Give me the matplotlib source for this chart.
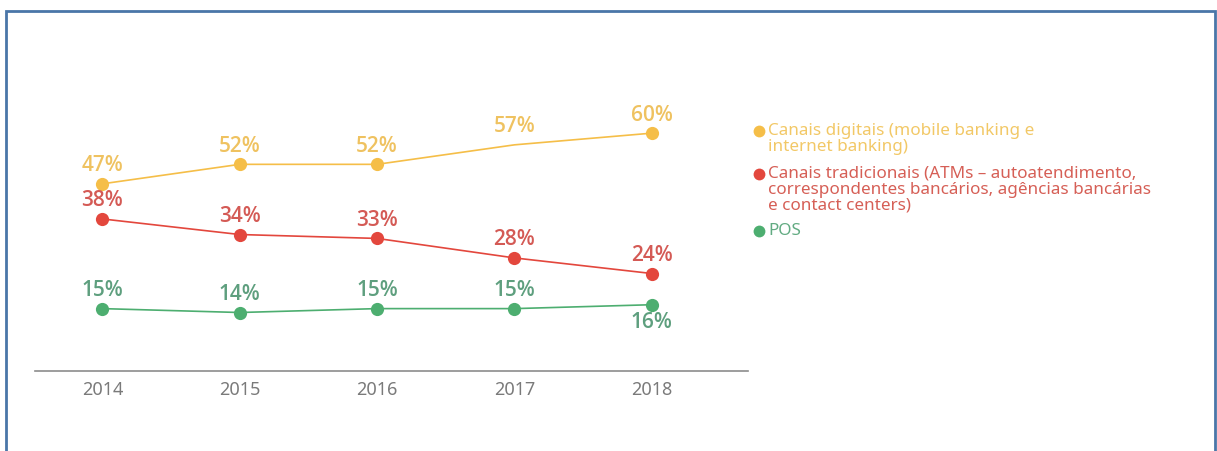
import matplotlib.pyplot as plt
from matplotlib.patches import Rectangle
from matplotlib.lines import Line2D

plt.rcParams['font.family'] = ['Noto Sans', 'DejaVu Sans']

years = [2014, 2015, 2016, 2017, 2018]
digitais = [47, 52, 52, 57, 60]
tradicionais = [38, 34, 33, 28, 24]
pos = [15, 14, 15, 15, 16]

legend_labels = [
    'Canais digitais (mobile banking e\ninternet banking)',
    'Canais tradicionais (ATMs – autoatendimento,\ncorrespondentes bancários, agências bancárias\ne contact centers)',
    'POS',
]

line_colors = ['#F5BE48', '#E3473D', '#4DAE70']
text_colors = ['#EFC260', '#D45A55', '#5E9F7E']
legend_colors = ['#F2C866', '#D65F56', '#62AB82']

fig = plt.figure(figsize=(12.17, 4.51), dpi=100)
ax = fig.add_axes([35 / 1217, 1 - 371 / 451, 713 / 1217, 271 / 451])

series = [digitais, tradicionais, pos]
# label above the point unless noted (1 = above, -1 = below)
label_side = [
    [1, 1, 1, 1, 1],
    [1, 1, 1, 1, 1],
    [1, 1, 1, 1, -1],
]
marks = [[0, 1, 2, 4], None, None]

for vals, lc, tc, sides, mk in zip(series, line_colors, text_colors, label_side, marks):
    ax.plot(years, vals, color=lc, lw=1.2, marker='o', markersize=9.5,
            markevery=mk, markeredgewidth=0, zorder=3)
    for x, v, s in zip(years, vals, sides):
        ax.annotate(f'{v}%', (x, v), xytext=(0, 13 * s), textcoords='offset points',
                    ha='center', va='center', fontsize=15, fontweight='semibold',
                    family=['Open Sans', 'DejaVu Sans'], color=tc, zorder=4)

ax.set_xlim(2013.51, 2018.70)
ax.set_ylim(-1, 68.5)
ax.set_xticks(years)
ax.set_xticklabels([str(y) for y in years], fontsize=13, color='#7a7a7a',
                   fontweight='light')
ax.tick_params(axis='x', length=0, pad=7)
ax.set_yticks([])
for side in ['top', 'right', 'left']:
    ax.spines[side].set_visible(False)
ax.spines['bottom'].set_color('#8c8c8c')
ax.spines['bottom'].set_linewidth(1.2)

# legend drawn by hand so each marker sits on the first line of its text
legend_y = [131, 174, 231]
for lbl, col, mc, ly in zip(legend_labels, legend_colors, line_colors, legend_y):
    yf = 1 - ly / 451
    fig.add_artist(Line2D([759 / 1217], [yf], marker='o', markersize=8.5,
                          color=mc, markeredgewidth=0, linestyle='none'))
    fig.text(768 / 1217, yf + 8 / 451, lbl, ha='left', va='top', fontsize=12.3,
             color=col, linespacing=0.98)

# blue frame around the figure
fig.add_artist(Rectangle((6 / 1217, -0.05), 1209 / 1217, 1.05 - 11 / 451,
                         transform=fig.transFigure, fill=False,
                         edgecolor='#4A76A8', lw=2))

fig.savefig('out.png', dpi=100)
